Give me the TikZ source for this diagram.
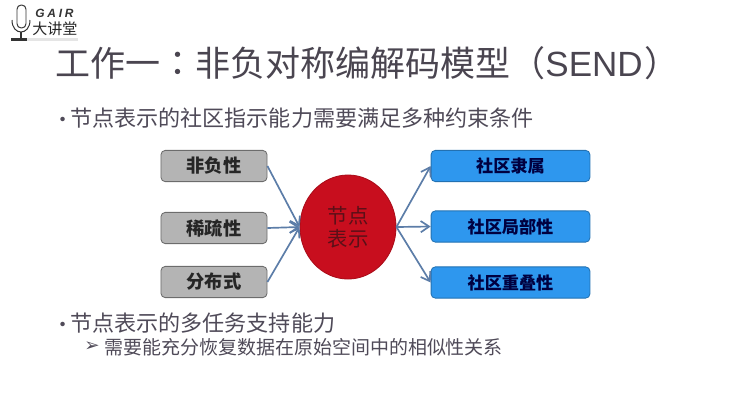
\documentclass[tikz,border=0pt]{standalone}
\usepackage{fontspec}
\setmainfont{Noto Sans CJK SC}
\newfontfamily\latinfont{Liberation Sans}
\newfontfamily\twfont{Noto Sans CJK TC}
\newfontfamily\markfont{DejaVu Sans}
\usetikzlibrary{shapes.geometric,arrows.meta}
\definecolor{titlegray}{HTML}{4A4550}
\definecolor{bodygray}{HTML}{4F4A58}
\definecolor{boxgray}{HTML}{B4B4B4}
\definecolor{boxblue}{HTML}{2E97EE}
\definecolor{diskred}{HTML}{C80E1E}
\definecolor{linkblue}{HTML}{5C7DA8}
\definecolor{diskink}{HTML}{5A1018}
\tikzset{
graybox/.style={draw=gray!85!black,fill=boxgray,rounded corners=3pt,line width=0.6pt,minimum width=2.65cm,minimum height=0.78cm,inner sep=0pt,text=black!85,font=\fontsize{13}{13}\selectfont\bfseries},
bluebox/.style={draw=boxblue!75!black,fill=boxblue,rounded corners=3pt,line width=0.6pt,minimum width=3.97cm,minimum height=0.78cm,inner sep=0pt,text=black!75!blue,font=\fontsize{12.2}{13}\selectfont\bfseries},
link/.style={draw=linkblue,line width=1.2pt,-{Straight Barb[length=6pt,width=8pt]}},
bodytext/.style={anchor=west,inner sep=0pt,text=bodygray},
}
\begin{document}
\begin{tikzpicture}[x=0.025cm,y=-0.025cm]
\useasboundingbox (0,0) rectangle (740,404);
% logo
\fill[black!10] (27,38) rectangle (78,41);
\draw[black!80,line width=0.7pt,fill=white,rounded corners=3pt] (17,5) rectangle (26,28);
\draw[black!80,line width=0.7pt] (12,20)..controls (12,36) and (30,36)..(30,20);
\draw[black!80,line width=0.8pt] (21,32)--(21,38);
\fill[black!80] (11,41) rectangle (27,38);
\node[anchor=west,inner sep=0pt,text=black!80] (gair) at (35,13.5){\latinfont\itshape\bfseries\fontsize{8.5}{9}\selectfont G\hspace{2pt}A\hspace{2pt}I\hspace{2pt}R};
\node[anchor=west,inner sep=0pt,text=black!85] (dajiang) at (32,29){\fontsize{10.7}{11}\selectfont 大讲堂};
% title
\node[anchor=west,inner sep=0pt,text=titlegray] (title) at (55,63){\fontsize{24.9}{26}\selectfont 工作一{\twfont ：}非负对称编解码模型（{\latinfont SEND}\hspace{1pt}）};
% text
\node[bodytext] (dotA) at (52,122){\fontsize{15}{15}\selectfont •};
\node[bodytext] (lineA) at (70,118){\fontsize{15.7}{16}\selectfont 节点表示的社区指示能力需要满足多种约束条件};
\node[bodytext] (dotB) at (52,327){\fontsize{15}{15}\selectfont •};
\node[bodytext] (lineB) at (70,323){\fontsize{15.7}{16}\selectfont 节点表示的多任务支持能力};
\node[bodytext] (markC) at (84,347){\markfont\fontsize{13}{13}\selectfont ➢};
\node[bodytext] (lineC) at (104,347){\fontsize{13.5}{14}\selectfont 需要能充分恢复数据在原始空间中的相似性关系};
% boxes
\node[graybox] (fei) at (214,166){非负性};
\node[graybox] (xi) at (214,228){稀疏性};
\node[graybox] (fen) at (214,282){分布式};
\node[bluebox] (shu) at (510.5,166){社区隶属};
\node[bluebox] (ju) at (510.5,226.5){社区局部性};
\node[bluebox] (die) at (510.5,282.5){社区重叠性};
\node[ellipse,fill=diskred,draw=diskred!85!black,line width=0.6pt,minimum width=2.4cm,minimum height=2.6cm,inner sep=0pt,align=center,text=diskink,font=\fontsize{14.5}{16}\selectfont] (node) at (348,227){节点\\表示};
% links
\draw[link] (fei.east)--(node.west);
\draw[link] (xi.east)--(node.west);
\draw[link] (fen.east)--(node.west);
\draw[link] (node.east)--(shu.west);
\draw[link] (node.east)--(ju.west);
\draw[link] (node.east)--(die.west);
\end{tikzpicture}
\end{document}
